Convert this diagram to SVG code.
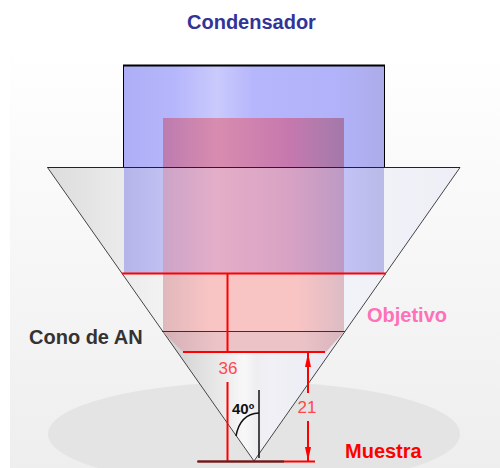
<svg xmlns="http://www.w3.org/2000/svg" width="500" height="468" viewBox="0 0 500 468">
<style>
.lb{font-family:"Liberation Sans",Arial,sans-serif;font-weight:bold;font-size:20px}
.dim{font-family:"Liberation Sans",Arial,sans-serif;font-size:17px;fill:#ff4848;text-anchor:middle}
.red{stroke:#ff0000;stroke-width:2;fill:none}
</style>
<defs>
<linearGradient id="bg" x1="0" y1="0" x2="0" y2="1"><stop offset="0" stop-color="#fff"/><stop offset="1" stop-color="#eeeeee"/></linearGradient>
<linearGradient id="cone" x1="47" y1="0" x2="460" y2="0" gradientUnits="userSpaceOnUse"><stop offset="0" stop-color="#dcdcdc"/><stop offset=".2" stop-color="#ececec"/><stop offset=".44" stop-color="#ffffff"/><stop offset=".55" stop-color="#f4f4fa"/><stop offset="1" stop-color="#eeeef6"/></linearGradient>
<linearGradient id="coneL" x1="178" y1="0" x2="335" y2="0" gradientUnits="userSpaceOnUse"><stop offset="0" stop-color="#d4d4d4"/><stop offset=".3" stop-color="#ececec"/><stop offset=".42" stop-color="#f8f8f8"/><stop offset=".5" stop-color="#eeeef2"/><stop offset=".6" stop-color="#f0f0f6"/><stop offset="1" stop-color="#eaeaf4"/></linearGradient>
<linearGradient id="blue" x1="123" y1="0" x2="384" y2="0" gradientUnits="userSpaceOnUse"><stop offset="0" stop-color="#aeaef6"/><stop offset=".2" stop-color="#b6b6fc"/><stop offset=".36" stop-color="#cacafc"/><stop offset=".5" stop-color="#b6b6fc"/><stop offset=".82" stop-color="#b2b2fa"/><stop offset="1" stop-color="#acacea"/></linearGradient>
<linearGradient id="blue2" x1="123" y1="0" x2="384" y2="0" gradientUnits="userSpaceOnUse"><stop offset="0" stop-color="#b4b4ea"/><stop offset=".15" stop-color="#c0c0f2"/><stop offset=".85" stop-color="#c2c2f6"/><stop offset="1" stop-color="#babae8"/></linearGradient>
<linearGradient id="pink1" x1="163" y1="0" x2="344" y2="0" gradientUnits="userSpaceOnUse"><stop offset="0" stop-color="#bc7cb0"/><stop offset=".3" stop-color="#d88cae"/><stop offset=".7" stop-color="#c678ae"/><stop offset=".88" stop-color="#b07aac"/><stop offset="1" stop-color="#a478aa"/></linearGradient>
<linearGradient id="pink2" x1="163" y1="0" x2="344" y2="0" gradientUnits="userSpaceOnUse"><stop offset="0" stop-color="#cca4c8"/><stop offset=".3" stop-color="#e4aec8"/><stop offset=".7" stop-color="#d8a2c4"/><stop offset="1" stop-color="#bc9ac4"/></linearGradient>
<linearGradient id="pink3" x1="163" y1="0" x2="344" y2="0" gradientUnits="userSpaceOnUse"><stop offset="0" stop-color="#e0b8bc"/><stop offset=".25" stop-color="#f8c4c4"/><stop offset=".75" stop-color="#f8c4c4"/><stop offset="1" stop-color="#dcbcc4"/></linearGradient>
<linearGradient id="pink4" x1="163" y1="0" x2="344" y2="0" gradientUnits="userSpaceOnUse"><stop offset="0" stop-color="#d4b0b4"/><stop offset=".3" stop-color="#ecc4c8"/><stop offset=".75" stop-color="#ecc4c8"/><stop offset="1" stop-color="#d8b4bc"/></linearGradient>
</defs>
<rect id="fondo" x="10" y="45" width="490" height="423" fill="url(#bg)"/>
<ellipse id="muestra-zona" cx="254" cy="434" rx="206" ry="52" fill="#e4e4e4"/>
<g id="objetivo">
<path d="M47.500 167.500H460L254 461Z" fill="url(#cone)"/>
<path d="M163 332L254 461L344 332Z" fill="url(#coneL)"/>
<path d="M254 461L47.500 167.500H460Z" fill="none" stroke="#444" stroke-width="1"/>
</g>
<g id="condensador">
<rect x="123.500" y="66" width="261" height="101" fill="url(#blue)"/>
<rect x="124" y="167" width="260" height="106" fill="url(#blue2)"/>
<path d="M123.500 167V66M384.500 167V66" stroke="#000" stroke-width="1" fill="none"/>
<path d="M123 65.500H385" stroke="#000" stroke-width="2" fill="none"/>
</g>
<g id="rosa">
<rect x="163" y="118" width="181" height="49" fill="url(#pink1)"/>
<rect x="163" y="167" width="181" height="106" fill="url(#pink2)"/>
<rect x="163" y="273" width="181" height="59" fill="url(#pink3)"/>
<path d="M163 332H344L326 352H183Z" fill="url(#pink4)"/>
</g>
<path id="borde" d="M47.500 167.500H460" stroke="#222" stroke-width="1" fill="none"/>
<g id="conectores">
<path d="M162 331.500H345" stroke="#333" stroke-width="1" fill="none"/>
<path class="red" d="M122 273.500H386"/>
<path class="red" d="M183 352H325"/>
<path class="red" d="M227.500 273V353M227.500 382V461"/>
<path class="red" d="M308 352V393M308 421V461"/>
<path d="M308 353L311 367H305ZM308 461L311 447H305Z" fill="#ff0000"/>
<path class="red" d="M197 461.500H315"/>
<path d="M198 461.500H284" stroke="#333" stroke-width="2" fill="none"/>
<path d="M259 390V458" stroke="#111" stroke-width="1.500" fill="none"/>
<path d="M236 436Q240 414 259 413" stroke="#111" stroke-width="1.500" fill="none"/>
</g>
<text class="lb" x="187" y="29" fill="#333399">Condensador</text>
<text class="lb" x="29" y="344" fill="#333333">Cono de AN</text>
<text class="lb" x="367" y="322" fill="#ff70b8">Objetivo</text>
<text class="lb" x="345" y="458" fill="#ff0000">Muestra</text>
<text class="dim" x="228" y="374">36</text>
<text class="dim" x="307" y="413">21</text>
<text x="232" y="414" font-family="'Liberation Sans',Arial,sans-serif" font-weight="bold" font-size="15" fill="#111">40º</text>
</svg>
